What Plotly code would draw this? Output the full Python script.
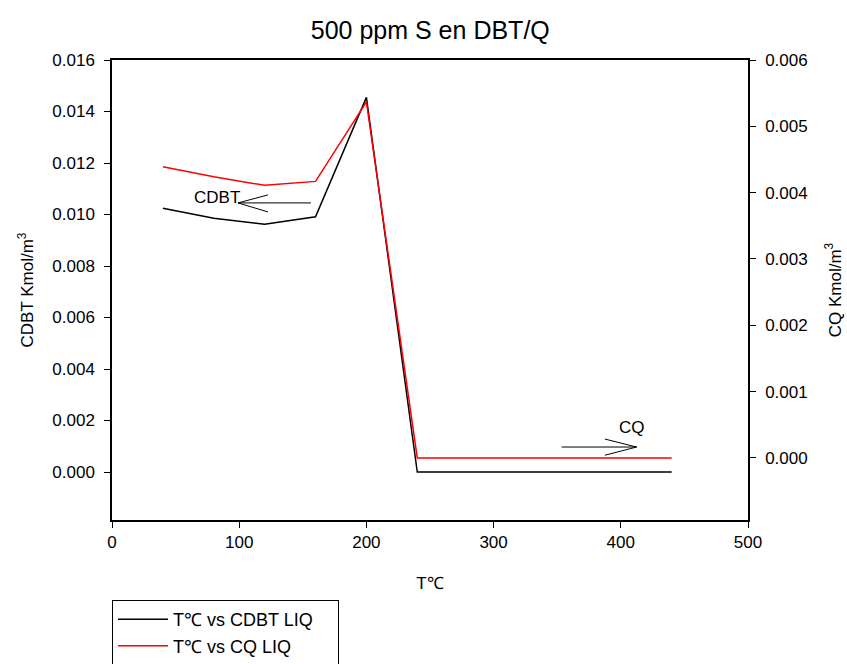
import plotly.graph_objects as go

# Temperature (°C) and liquid-phase concentrations (kmol/m3)
temperature = [40, 80, 120, 160, 200, 240, 280, 320, 360, 400, 440]
cdbt_liq = [0.01024, 0.00985, 0.00962, 0.00991, 0.01455, 0.0, 0.0, 0.0, 0.0, 0.0, 0.0]
cq_liq = [0.00439, 0.00424, 0.00411, 0.00417, 0.00537, 0.0, 0.0, 0.0, 0.0, 0.0, 0.0]

left_ticks = [0.000, 0.002, 0.004, 0.006, 0.008, 0.010, 0.012, 0.014, 0.016]
right_ticks = [0.000, 0.001, 0.002, 0.003, 0.004, 0.005, 0.006]
x_ticks = [0, 100, 200, 300, 400, 500]

FONT = "Liberation Sans, Arial, sans-serif"
PAD = "\u00a0" * 4  # right padding inside the legend box

fig = go.Figure()
fig.add_trace(go.Scatter(
    x=temperature, y=cdbt_liq, mode="lines", name="T℃ vs CDBT LIQ" + PAD,
    line=dict(color="black", width=1.5), yaxis="y",
))
fig.add_trace(go.Scatter(
    x=temperature, y=cq_liq, mode="lines", name="T℃ vs CQ LIQ",
    line=dict(color="#ff0000", width=1.5), yaxis="y2",
))

# Pointer arrows (open heads) labelling which axis each curve uses
arrow = dict(type="line", xref="x", yref="y", line=dict(color="black", width=1))
shapes = [
    # CDBT -> left axis
    dict(arrow, x0=156.4, y0=0.01045, x1=99.1, y1=0.01045),
    dict(arrow, x0=99.1, y0=0.01045, x1=122.6, y1=0.01076),
    dict(arrow, x0=99.1, y0=0.01045, x1=122.6, y1=0.01010),
    # CQ -> right axis
    dict(arrow, x0=353.5, y0=0.00097, x1=412.4, y1=0.00097),
    dict(arrow, x0=412.4, y0=0.00097, x1=387.5, y1=0.00128),
    dict(arrow, x0=412.4, y0=0.00097, x1=387.5, y1=0.00065),
]

annotations = [
    dict(text="CDBT", x=82.5, y=0.01066, xref="x", yref="y", showarrow=False,
         font=dict(size=17, color="black", family=FONT)),
    dict(text="CQ", x=408.5, y=0.00171, xref="x", yref="y", showarrow=False,
         font=dict(size=17, color="black", family=FONT)),
]

fig.update_layout(
    width=847, height=664,
    margin=dict(l=112, r=99, t=60, b=144, autoexpand=False),
    paper_bgcolor="white", plot_bgcolor="white",
    font=dict(family=FONT, size=17, color="black"),
    title=dict(text="500 ppm S en DBT/Q", x=0.508, xanchor="center",
               y=0.955, yanchor="middle", font=dict(size=25, family=FONT)),
    xaxis=dict(
        range=[0, 500], tickvals=x_ticks, ticks="outside", ticklen=6,
        tickcolor="black", showline=True, linecolor="black", linewidth=1.5,
        mirror=True, showgrid=False, zeroline=False, automargin=False,
        title=dict(text="T℃", standoff=26, font=dict(size=17)),
    ),
    yaxis=dict(
        range=[-0.001864, 0.016], tickvals=left_ticks, tickformat=".3f",
        ticks="outside", ticklen=6, tickcolor="black", showline=True,
        linecolor="black", linewidth=1.5, showgrid=False, zeroline=False,
        ticklabelstandoff=6, automargin=False,
        title=dict(text="CDBT Kmol/m<sup>3</sup>", standoff=14, font=dict(size=17)),
    ),
    yaxis2=dict(
        range=[-0.000935, 0.006], tickvals=right_ticks, tickformat=".3f",
        overlaying="y", side="right", ticks="outside", ticklen=6,
        tickcolor="black", showline=True, linecolor="black", linewidth=1.5,
        showgrid=False, zeroline=False, ticklabelstandoff=6, automargin=False,
        title=dict(text="CQ Kmol/m<sup>3</sup>", standoff=22, font=dict(size=17)),
    ),
    legend=dict(
        x=0, xanchor="left", y=-0.174, yanchor="top",
        bordercolor="black", borderwidth=1, bgcolor="white",
        itemwidth=50, font=dict(size=18, family=FONT), tracegroupgap=0,
    ),
    shapes=shapes,
    annotations=annotations,
)

fig.write_html("out.html")
